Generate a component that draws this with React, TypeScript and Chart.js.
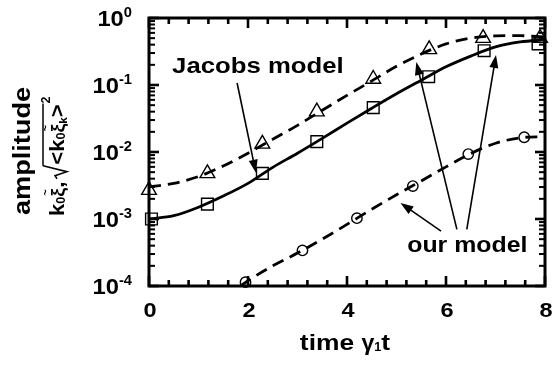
import React, { useEffect, useRef } from "react";
import { Chart, registerables } from "chart.js";

Chart.register(...registerables);

// ---- data ----
const curveT = [0, 0.5, 1, 1.5, 2, 2.5, 3, 3.5, 4, 4.5, 5, 5.5, 6, 6.5, 7, 7.5, 8];
const upperDashed = [0.003, 0.0034, 0.0043, 0.0062, 0.0096, 0.0155, 0.025, 0.042, 0.07, 0.115, 0.19, 0.29, 0.41, 0.5, 0.54, 0.545, 0.52];
const solidCurve = [0.001, 0.00112, 0.0015, 0.0022, 0.0034, 0.0059, 0.0096, 0.016, 0.027, 0.045, 0.074, 0.118, 0.187, 0.27, 0.37, 0.44, 0.47];
const lowerT = [1.85, 2, 2.5, 3, 3.5, 4, 4.5, 5, 5.5, 6, 6.5, 7, 7.5, 8];
const lowerDashed = [0.0001, 0.00012, 0.0002, 0.00031, 0.0005, 0.00083, 0.0014, 0.0023, 0.0037, 0.006, 0.0095, 0.0135, 0.0163, 0.017];

const triT = [0, 1.18, 2.29, 3.39, 4.53, 5.66, 6.75, 7.9];
const triV = [0.0027, 0.0048, 0.0132, 0.04, 0.123, 0.34, 0.5, 0.5];
const sqT = [0.05, 1.18, 2.29, 3.39, 4.53, 5.65, 6.77, 7.86];
const sqV = [0.001, 0.00167, 0.0048, 0.0143, 0.046, 0.133, 0.325, 0.41];
const cirT = [1.95, 3.1, 4.2, 5.33, 6.45, 7.58];
const cirV = [0.000114, 0.00034, 0.00103, 0.0031, 0.0093, 0.0166];

const xTicks = [0, 2, 4, 6, 8];
const yTickExps = [0, -1, -2, -3, -4];

const xTitle = "time ";
const jacobsLabel = "Jacobs model";
const ourLabel = "our model";

// annotation anchors in data coordinates [t, amplitude]
const jacobsText = [2.2, 0.186];
const ourText = [6.43, 0.0004];
const arrows = [
  { from: [1.78, 0.107], to: [2.16, 0.0049] },
  { from: [5.9, 0.00066], to: [5.08, 0.00174] },
  { from: [6.22, 0.0007], to: [5.4, 0.22] },
  { from: [6.42, 0.0007], to: [7.01, 0.28] },
];

const FONT = '"Liberation Sans", Arial, Helvetica, sans-serif';

function txt(ctx, s, x, y, size, align, sx = 1.12, baseline = "middle") {
  ctx.save();
  ctx.font = `bold ${size}px ${FONT}`;
  ctx.textBaseline = baseline;
  ctx.textAlign = align;
  ctx.fillStyle = "#000";
  ctx.translate(x, y);
  ctx.scale(sx, 1);
  ctx.fillText(s, 0, 0);
  ctx.restore();
}
function w(ctx, s, size, sx = 1.12) {
  ctx.save();
  ctx.font = `bold ${size}px ${FONT}`;
  const m = ctx.measureText(s).width * sx;
  ctx.restore();
  return m;
}

function arrow(ctx, x1, y1, x2, y2) {
  const ang = Math.atan2(y2 - y1, x2 - x1);
  const L = 13, W = 4.5;
  ctx.save();
  ctx.setLineDash([]);
  ctx.strokeStyle = "#000";
  ctx.fillStyle = "#000";
  ctx.lineWidth = 1.6;
  ctx.beginPath();
  ctx.moveTo(x1, y1);
  ctx.lineTo(x2 - Math.cos(ang) * L * 0.8, y2 - Math.sin(ang) * L * 0.8);
  ctx.stroke();
  ctx.beginPath();
  ctx.moveTo(x2, y2);
  ctx.lineTo(x2 - Math.cos(ang) * L - Math.sin(ang) * W, y2 - Math.sin(ang) * L + Math.cos(ang) * W);
  ctx.lineTo(x2 - Math.cos(ang) * L + Math.sin(ang) * W, y2 - Math.sin(ang) * L - Math.cos(ang) * W);
  ctx.closePath();
  ctx.fill();
  ctx.restore();
}

function drawYTitle(ctx) {
  // "amplitude"
  ctx.save();
  ctx.translate(24, 151);
  ctx.rotate(-Math.PI / 2);
  txt(ctx, "amplitude", 0, 0, 23, "center", 1.18);
  ctx.restore();

  // second line: k0ξ, sqrt(<k0ξk>^2)
  ctx.save();
  ctx.translate(64, 216);
  ctx.rotate(-Math.PI / 2);
  ctx.fillStyle = "#000";
  const S = 21, sx = 1.05;
  let x = 0;
  const put = (s, size, dy = 0) => {
    txt(ctx, s, x, dy, size, "left", sx, "alphabetic");
    x += w(ctx, s, size, sx);
  };
  put("k", S);
  put("0", 12, 1);
  const xi1 = x;
  put("\u03BE", 19);
  txt(ctx, "~", xi1 + 1, -15, 11, "left", 1, "alphabetic");
  put(",", S);
  x += 3;
  // sqrt sign
  ctx.save();
  ctx.setLineDash([]);
  ctx.strokeStyle = "#000";
  ctx.lineWidth = 1.5;
  ctx.beginPath();
  ctx.moveTo(x, -7);
  ctx.lineTo(x + 3, -9);
  ctx.lineTo(x + 7, 3);
  ctx.lineTo(x + 13, -21);
  const ovStart = x + 13;
  ctx.stroke();
  ctx.restore();
  x += 14;
  put("<", S);
  put("k", S);
  put("0", 12, 1);
  const xi2 = x;
  put("\u03BE", 19);
  txt(ctx, "~", xi2 + 1, -15, 11, "left", 1, "alphabetic");
  put("k", 11, 3);
  put(">", S);
  const ovEnd = x + 1;
  ctx.save();
  ctx.setLineDash([]);
  ctx.strokeStyle = "#000";
  ctx.lineWidth = 1.5;
  ctx.beginPath();
  ctx.moveTo(ovStart, -21);
  ctx.lineTo(ovEnd, -21);
  ctx.stroke();
  ctx.restore();
  x += 1;
  txt(ctx, "2", x, -14, 12, "left", sx, "alphabetic");
  ctx.restore();
}

const framePlugin = {
  id: "frameAndText",
  afterDraw(chart) {
    const ctx = chart.ctx;
    const { left, right, top, bottom } = chart.chartArea;
    const xs = chart.scales.x;
    const ys = chart.scales.y;
    ctx.save();
    ctx.setLineDash([]);
    ctx.globalAlpha = 1;
    ctx.fillStyle = "#000";
    ctx.strokeStyle = "#000";

    // ticks (inward, all four sides) drawn as filled rectangles
    const TW = 2.6;
    const MAJ = 10, MIN = 6;
    for (let i = 0; i < xTicks.length; i++) {
      const px = xs.getPixelForValue(xTicks[i]);
      ctx.fillRect(px - TW / 2, bottom - MAJ, TW, MAJ);
      ctx.fillRect(px - TW / 2, top, TW, MAJ);
      if (i < xTicks.length - 1) {
        const step = (xTicks[i + 1] - xTicks[i]) / 5;
        for (let k = 1; k < 5; k++) {
          const mx = xs.getPixelForValue(xTicks[i] + k * step);
          ctx.fillRect(mx - TW / 2, bottom - MIN, TW, MIN);
          ctx.fillRect(mx - TW / 2, top, TW, MIN);
        }
      }
    }
    for (const e of yTickExps) {
      const py = ys.getPixelForValue(Math.pow(10, e));
      ctx.fillRect(left, py - TW / 2, MAJ, TW);
      ctx.fillRect(right - MAJ, py - TW / 2, MAJ, TW);
      if (e < 0) {
        for (let m = 2; m <= 9; m++) {
          const my = ys.getPixelForValue(m * Math.pow(10, e));
          ctx.fillRect(left, my - 1, MIN, 2);
          ctx.fillRect(right - MIN, my - 1, MIN, 2);
        }
      }
    }

    // frame
    ctx.lineWidth = 3;
    ctx.strokeRect(left, top, right - left, bottom - top);

    // x tick labels
    for (const t of xTicks) {
      txt(ctx, String(t), xs.getPixelForValue(t) + 1, bottom + 25, 21, "center", 1.12);
    }
    // y tick labels 10^e
    for (const e of yTickExps) {
      const py = ys.getPixelForValue(Math.pow(10, e));
      const sup = String(e);
      const supW = w(ctx, sup, 14, 1.05);
      const baseW = w(ctx, "10", 22, 1.08);
      const rightEdge = 132;
      txt(ctx, "10", rightEdge - supW - baseW, py + 2, 22, "left", 1.08);
      txt(ctx, sup, rightEdge - supW, py - 5, 14, "left", 1.05);
    }

    // x title: time γ1t
    {
      const size = 22, sx = 1.2;
      const a = w(ctx, xTitle, size, sx);
      const g = w(ctx, "\u03B3", size, 1.05);
      const one = w(ctx, "1", 12, 1.05);
      const tt = w(ctx, "t", size, sx);
      const total = a + g + one + tt;
      let x0 = 345 - total / 2;
      const yb = 350;
      txt(ctx, xTitle, x0, yb, size, "left", sx, "alphabetic");
      x0 += a;
      txt(ctx, "\u03B3", x0, yb, size, "left", 1.05, "alphabetic");
      x0 += g;
      txt(ctx, "1", x0, yb + 1, 12, "left", 1.05, "alphabetic");
      x0 += one;
      txt(ctx, "t", x0, yb, size, "left", sx, "alphabetic");
    }

    drawYTitle(ctx);

    // annotations
    txt(ctx, jacobsLabel, xs.getPixelForValue(jacobsText[0]), ys.getPixelForValue(jacobsText[1]), 22, "center", 1.17);
    txt(ctx, ourLabel, xs.getPixelForValue(ourText[0]), ys.getPixelForValue(ourText[1]), 22, "center", 1.13);
    for (const a of arrows) {
      arrow(
        ctx,
        xs.getPixelForValue(a.from[0]), ys.getPixelForValue(a.from[1]),
        xs.getPixelForValue(a.to[0]), ys.getPixelForValue(a.to[1])
      );
    }
    ctx.restore();
  },
};

const pts = (xsArr, ysArr) => xsArr.map((x, i) => ({ x, y: ysArr[i] }));

export default function App() {
  const ref = useRef(null);
  useEffect(() => {
    const lineBase = {
      showLine: true,
      pointRadius: 0,
      borderColor: "#000",
      borderWidth: 2.8,
      cubicInterpolationMode: "monotone",
      fill: false,
    };
    const markBase = {
      showLine: false,
      borderColor: "#000",
      backgroundColor: "rgba(0,0,0,0)",
      pointBorderColor: "#000",
      pointBackgroundColor: "rgba(0,0,0,0)",
      pointBorderWidth: 1.4,
      clip: false,
    };
    const chart = new Chart(ref.current, {
      type: "scatter",
      data: {
        datasets: [
          { ...lineBase, data: pts(curveT, upperDashed), borderDash: [12, 7] },
          { ...lineBase, data: pts(curveT, solidCurve) },
          { ...lineBase, data: pts(lowerT, lowerDashed), borderDash: [12, 7] },
          { ...markBase, data: pts(triT, triV), pointStyle: "triangle", pointRadius: 8.5 },
          { ...markBase, data: pts(sqT, sqV), pointStyle: "rect", pointRadius: 8.3 },
          { ...markBase, data: pts(cirT, cirV), pointStyle: "circle", pointRadius: 5.2 },
        ],
      },
      options: {
        responsive: false,
        animation: false,
        events: [],
        layout: { padding: { left: 149, right: 10, top: 18, bottom: 80 } },
        plugins: { legend: { display: false }, tooltip: { enabled: false } },
        scales: {
          x: { type: "linear", min: 0, max: 8, display: false },
          y: { type: "logarithmic", min: 1e-4, max: 1, display: false },
        },
      },
      plugins: [framePlugin],
    });
    return () => chart.destroy();
  }, []);
  return (
    <div style={{ position: "absolute", left: 0, top: 0, width: 555, height: 366, background: "#fff" }}>
      <canvas ref={ref} width={555} height={366} />
    </div>
  );
}
